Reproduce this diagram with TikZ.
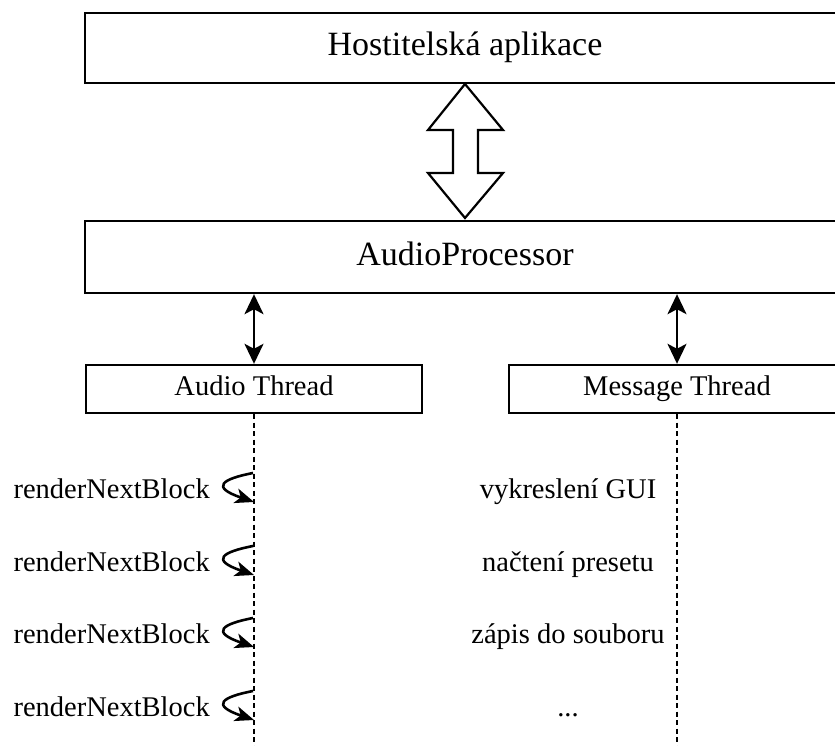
\documentclass[tikz,border=0pt]{standalone}
\usepackage{fontspec}
\setmainfont{Liberation Serif}
\usetikzlibrary{arrows.meta}
\begin{document}
\begin{tikzpicture}[x=1pt,y=-1pt,
  box/.style={draw,line width=2.4pt,inner sep=0pt,anchor=center},
  bigtxt/.style={font=\fontsize{34}{40}\selectfont,text height=23pt,text depth=7pt},
  smalltxt/.style={font=\fontsize{28.5}{34}\selectfont,text height=19.5pt,text depth=6pt},
  lbl/.style={smalltxt,inner sep=0pt},
  lifeline/.style={line width=2.2pt,dash pattern=on 5pt off 3.5pt},
  dblarrow/.style={line width=2.2pt,{Stealth[length=20pt,width=19pt,inset=5pt]}-{Stealth[length=20pt,width=19pt,inset=5pt]}},
  selfcall/.style={line width=2.6pt,-{Stealth[length=19pt,width=15pt,inset=5pt]}},
  hollow/.style={draw,line width=2.2pt,fill=white,line join=miter}
]
\useasboundingbox (0,0) rectangle (835,746);
\clip (0,0) rectangle (835,746);
% boxes
\node[box,minimum width=760pt,minimum height=70pt,bigtxt] (host) at (465,48) {Hostitelská aplikace};
\node[box,minimum width=760pt,minimum height=72pt,bigtxt] (proc) at (465,257) {AudioProcessor};
\node[box,minimum width=336pt,minimum height=48pt,smalltxt] (audio) at (254,389) {Audio Thread};
\node[box,minimum width=336pt,minimum height=48pt,smalltxt] (msg) at (677,389) {Message Thread};
% hollow double arrow
\draw[hollow] (465,84) -- (503,130) -- (478,130) -- (478,173) -- (503,173) -- (465,218)
  -- (428,173) -- (453,173) -- (453,130) -- (428,130) -- cycle;
% small double arrows
\draw[dblarrow] (audio.north |- proc.south) -- (audio.north);
\draw[dblarrow] (msg.north |- proc.south) -- (msg.north);
% lifelines
\coordinate (aend) at (254,746);
\coordinate (mend) at (677,746);
\draw[lifeline] (audio.south) -- (aend);
\draw[lifeline] (msg.south) -- (mend);
% self calls and labels
\foreach \i/\y in {1/473,2/546,3/618,4/691}{
  \coordinate (s\i) at (253,\y);
  \coordinate (e\i) at (254,\y+29);
  \draw[selfcall] (s\i) .. controls (222,\y+6) and (210,\y+14) .. (e\i);
  \node[lbl,anchor=east] (r\i) at (210,\y+19) {renderNextBlock};
}
\node[lbl] (m1) at (568,492) {vykreslení GUI};
\node[lbl] (m2) at (568,565) {načtení presetu};
\node[lbl] (m3) at (568,637) {zápis do souboru};
\node[lbl] (m4) at (568,710) {...};
\end{tikzpicture}
\end{document}
